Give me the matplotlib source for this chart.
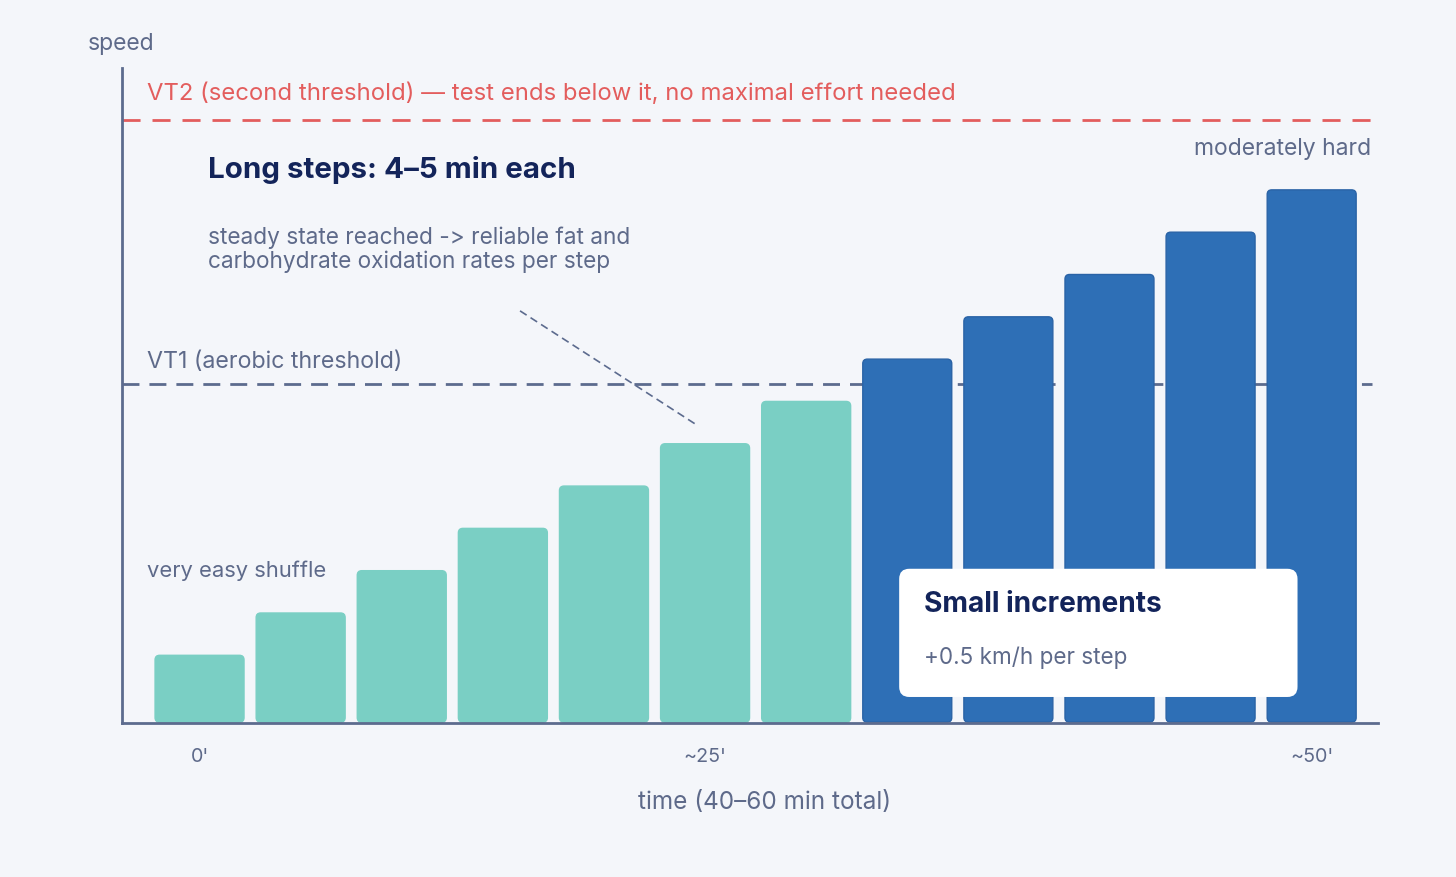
import numpy as np
import matplotlib
matplotlib.use("Agg")
import matplotlib.pyplot as plt
from matplotlib.patches import FancyBboxPatch

# step test: 12 steps, each +0.5 km/h (height in "step units" above the axis)
steps = np.arange(12)
heights = [1.6, 2.6, 3.6, 4.6, 5.6, 6.6, 7.6, 8.6, 9.6, 10.6, 11.6, 12.6]
zone = ["easy"] * 7 + ["hard"] * 5
vt1 = 8.0
vt2 = 14.25
tick_pos = [0, 5, 11]
tick_labels = ["0'", "~25'", "~50'"]

BG = "#F4F6FA"
AXC = "#5C6B8E"
TXT = "#5E6A8A"
NAVY = "#13245A"
RED = "#E35D5D"
TEAL = "#7ACFC4"
BLUE = "#2E6FB6"
colors = {"easy": TEAL, "hard": BLUE}

plt.rcParams["font.family"] = ["Inter", "DejaVu Sans"]

W, H = 1456, 877
fig = plt.figure(figsize=(W / 100, H / 100), dpi=100, facecolor=BG)
ax = fig.add_axes([122 / W, 1 - 723 / H, (1378 - 122) / W, (723 - 68) / H])
ax.set_facecolor(BG)
ax.set_xlim(-0.767, 11.656)
ax.set_ylim(0, 15.48)


def px(x, y):
    # figure pixel (from top-left) -> figure fraction, text centres sit ~2px low
    return x / W, 1 - (y + 2) / H


# threshold lines
ax.plot([-0.767, 11.6], [vt2, vt2], color=RED, lw=2, dashes=(6.5, 4.3), zorder=1)
ax.plot([-0.767, 11.6], [vt1, vt1], color=AXC, lw=2, dashes=(6.1, 3.6), zorder=1)

# rounded bars
bw = 0.88
asp = 101.1 / 42.3
for x, h, z in zip(steps, heights, zone):
    c = colors[z]
    ec = "#2A63A6" if z == "hard" else c
    p = FancyBboxPatch((x - bw / 2, 0.02), bw, h - 0.02,
                       boxstyle="round,pad=0,rounding_size=0.045",
                       mutation_aspect=asp, fc=c, ec=ec, lw=1, zorder=2)
    ax.add_patch(p)

# callout pointer
ax.plot([3.17, 4.92], [9.74, 7.04], color=AXC, lw=1.2, dashes=(4.7, 2.8), zorder=3)

# axes
for s in ["top", "right"]:
    ax.spines[s].set_visible(False)
for s in ["left", "bottom"]:
    ax.spines[s].set_color(AXC)
    ax.spines[s].set_linewidth(2)
ax.set_yticks([])
ax.set_xticks(tick_pos)
ax.set_xticklabels(tick_labels)
ax.tick_params(axis="x", length=0, pad=18, labelsize=14.2, labelcolor=TXT)

# increments box
box = FancyBboxPatch((6.92, 0.615), 3.94, 3.03,
                     boxstyle="round,pad=0,rounding_size=0.1",
                     mutation_aspect=asp, fc="white", ec="none", zorder=4)
ax.add_patch(box)

# texts
fig.text(*px(88, 42), "speed", color=TXT, fontsize=16.5, va="center", ha="left")
fig.text(*px(147, 92), "VT2 (second threshold) \u2014 test ends below it, no maximal effort needed",
         color=RED, fontsize=17.2, va="center", ha="left")
fig.text(*px(1371, 147), "moderately hard", color=TXT, fontsize=16.5, va="center", ha="right")
fig.text(*px(208, 168), "Long steps: 4\u20135 min each", color=NAVY, fontsize=21.3,
         fontweight="bold", va="center", ha="left")
fig.text(*px(208, 247.5), "steady state reached -> reliable fat and\ncarbohydrate oxidation rates per step",
         color=TXT, fontsize=16.3, va="center", ha="left", linespacing=1.06)
fig.text(*px(147, 360), "VT1 (aerobic threshold)", color=TXT, fontsize=16.7, va="center", ha="left")
fig.text(*px(147, 569), "very easy shuffle", color=TXT, fontsize=15.8, va="center", ha="left")
fig.text(*px(924, 603), "Small increments", color=NAVY, fontsize=20.2, fontweight="bold",
         va="center", ha="left", zorder=5)
fig.text(*px(924, 656), "+0.5 km/h per step", color=TXT, fontsize=16.2, va="center", ha="left",
         zorder=5)
fig.text(*px(765, 800), "time (40\u201360 min total)", color=TXT, fontsize=17.5, va="center",
         ha="center")

fig.savefig("out.png", dpi=100, facecolor=BG)
